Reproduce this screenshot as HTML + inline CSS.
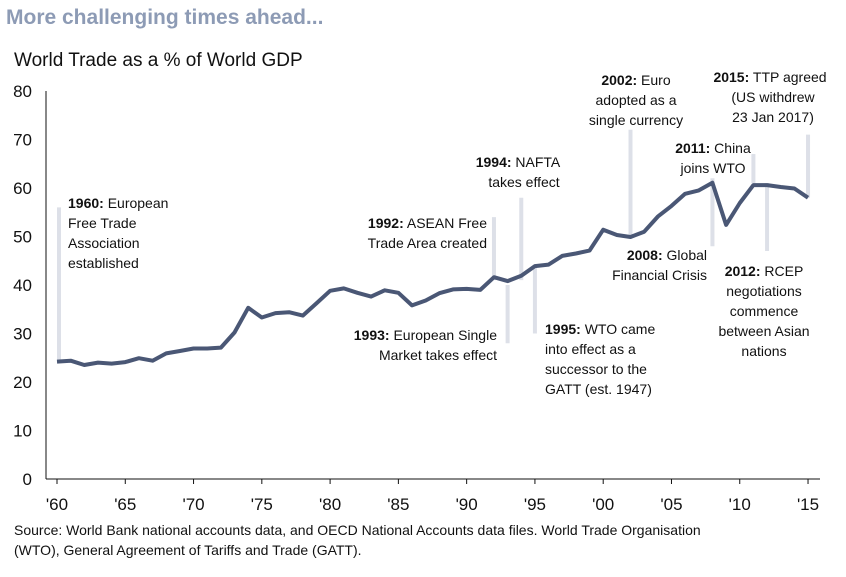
<!DOCTYPE html>
<html><head><meta charset="utf-8"><style>
body{margin:0;background:#fff;font-family:"Liberation Sans",sans-serif}
svg text{font-family:"Liberation Sans",sans-serif}
</style></head><body>
<svg width="846" height="572" viewBox="0 0 846 572">
<text x="6" y="24" font-size="21" font-weight="bold" fill="#8d9bb5">More challenging times ahead...</text>
<text x="14" y="66" font-size="19" fill="#111">World Trade as a % of World GDP</text>
<g id="yaxis"></g>
<g id="xaxis"></g>
<g id="bars"></g>
<path id="line" fill="none" stroke="#4a5775" stroke-width="4" stroke-linejoin="round"/>
<g font-size="14" fill="#111">
<text x="68" y="208"><tspan font-weight="bold">1960:</tspan> European</text>
<text x="68" y="228">Free Trade</text>
<text x="68" y="248">Association</text>
<text x="68" y="268">established</text>
<text x="487" y="228" text-anchor="end"><tspan font-weight="bold">1992:</tspan> ASEAN Free</text>
<text x="487" y="248" text-anchor="end">Trade Area created</text>
<text x="518" y="167" text-anchor="middle"><tspan font-weight="bold">1994:</tspan> NAFTA</text>
<text x="524" y="187" text-anchor="middle">takes effect</text>
<text x="497" y="340" text-anchor="end"><tspan font-weight="bold">1993:</tspan> European Single</text>
<text x="497" y="360" text-anchor="end">Market takes effect</text>
<text x="545" y="334"><tspan font-weight="bold">1995:</tspan> WTO came</text>
<text x="545" y="354">into effect as a</text>
<text x="545" y="374">successor to the</text>
<text x="545" y="394">GATT (est. 1947)</text>
<text x="636" y="85" text-anchor="middle"><tspan font-weight="bold">2002:</tspan> Euro</text>
<text x="636" y="105" text-anchor="middle">adopted as a</text>
<text x="636" y="125" text-anchor="middle">single currency</text>
<text x="713" y="153" text-anchor="middle"><tspan font-weight="bold">2011:</tspan> China</text>
<text x="713" y="173" text-anchor="middle">joins WTO</text>
<text x="707" y="260" text-anchor="end"><tspan font-weight="bold">2008:</tspan> Global</text>
<text x="707" y="280" text-anchor="end">Financial Crisis</text>
<text x="770" y="82" text-anchor="middle"><tspan font-weight="bold">2015:</tspan> TTP agreed</text>
<text x="773" y="102" text-anchor="middle">(US withdrew</text>
<text x="773" y="122" text-anchor="middle">23 Jan 2017)</text>
<text x="764" y="276" text-anchor="middle"><tspan font-weight="bold">2012:</tspan> RCEP</text>
<text x="764" y="296" text-anchor="middle">negotiations</text>
<text x="764" y="316" text-anchor="middle">commence</text>
<text x="764" y="336" text-anchor="middle">between Asian</text>
<text x="764" y="356" text-anchor="middle">nations</text>
</g>
<text x="14" y="535" font-size="14" fill="#111">Source: World Bank national accounts data, and OECD National Accounts data files. World Trade Organisation</text>
<text x="14" y="555" font-size="14" fill="#111">(WTO), General Agreement of Tariffs and Trade (GATT).</text>
</svg>
<script>
const years=[1960,1961,1962,1963,1964,1965,1966,1967,1968,1969,1970,1971,1972,1973,1974,1975,1976,1977,1978,1979,1980,1981,1982,1983,1984,1985,1986,1987,1988,1989,1990,1991,1992,1993,1994,1995,1996,1997,1998,1999,2000,2001,2002,2003,2004,2005,2006,2007,2008,2009,2010,2011,2012,2013,2014,2015];
const values=[24.2,24.4,23.5,24.0,23.8,24.1,24.9,24.4,25.9,26.4,26.9,26.9,27.1,30.2,35.3,33.3,34.2,34.4,33.7,36.2,38.8,39.3,38.4,37.6,38.9,38.4,35.8,36.8,38.3,39.1,39.2,39.0,41.6,40.8,41.9,43.9,44.2,46.0,46.5,47.1,51.4,50.3,49.9,51.0,54.1,56.3,58.8,59.5,61.1,52.4,56.9,60.6,60.6,60.2,59.9,58.0];
const yTicks=[0,10,20,30,40,50,60,70,80];
const xTickYears=[1960,1965,1970,1975,1980,1985,1990,1995,2000,2005,2010,2015];
const xTickLabels=["'60","'65","'70","'75","'80","'85","'90","'95","'00","'05","'10","'15"];
const noteYears=[1960,1992,1993,1994,1995,2002,2008,2011,2012,2015];
const noteTops=[56,54,40,58,44,72,62,67,61,71];
const noteBottoms=[24,41,28,41,30,50,48,61,47,58];
const NS="http://www.w3.org/2000/svg";
const x=yr=>57+(yr-1960)*13.655;
const y=v=>479-v*4.85;
function mk(tag,attrs,parent){const e=document.createElementNS(NS,tag);for(const k in attrs)e.setAttribute(k,attrs[k]);parent.appendChild(e);return e;}
const ya=document.getElementById('yaxis'),xa=document.getElementById('xaxis'),bars=document.getElementById('bars');
mk('line',{x1:46,x2:46,y1:y(80),y2:y(0),stroke:'#111','stroke-width':1},ya);
mk('line',{x1:46,x2:820,y1:y(0),y2:y(0),stroke:'#111','stroke-width':1},xa);
yTicks.forEach(t=>{const e=mk('text',{x:32,y:y(t)+6,'text-anchor':'end','font-size':17,fill:'#111'},ya);e.textContent=t;

});
xTickYears.forEach((t,i)=>{mk('line',{x1:x(t),x2:x(t),y1:y(0),y2:y(0)+5,stroke:'#111'},xa);
const e=mk('text',{x:x(t),y:510,'text-anchor':'middle','font-size':17,fill:'#111'},xa);e.textContent=xTickLabels[i];

});
noteYears.forEach((yr,i)=>{const b=mk('line',{x1:x(yr)+(yr===1960?2:0),x2:x(yr)+(yr===1960?2:0),y1:y(noteTops[i]),y2:y(noteBottoms[i]),stroke:'#dde0e8','stroke-width':4},bars);

});
document.getElementById('line').setAttribute('d',years.map((yr,i)=>(i?'L':'M')+x(yr).toFixed(1)+','+y(values[i]).toFixed(1)).join(''));
</script>
</body></html>
